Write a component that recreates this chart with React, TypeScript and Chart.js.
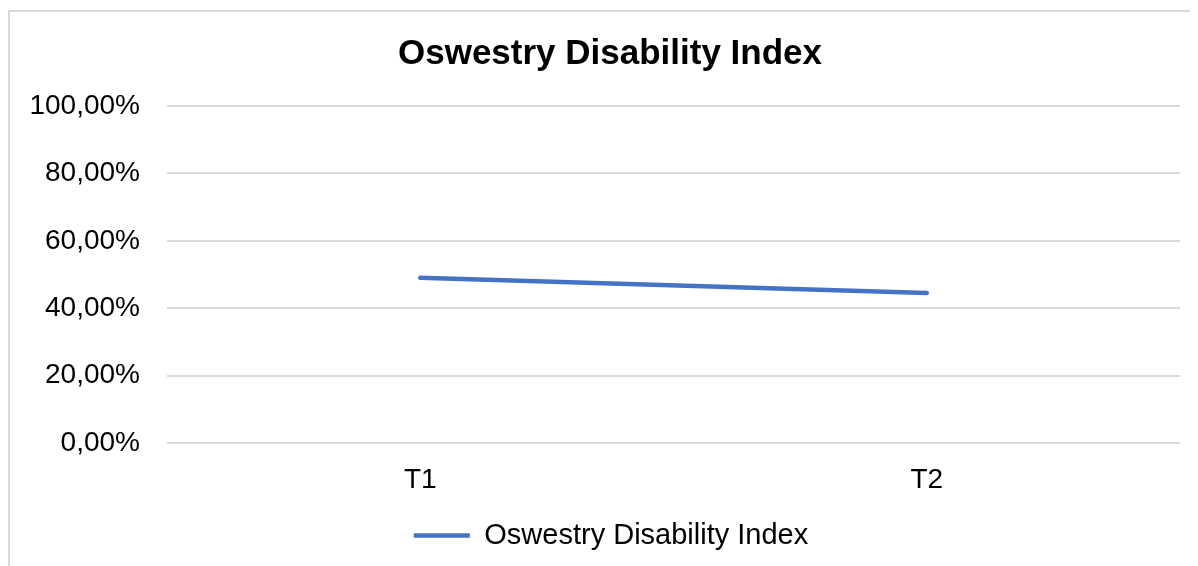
import React, { useEffect, useRef } from "react";
import { Chart, registerables } from "chart.js";

Chart.register(...registerables);

const categories = ["T1", "T2"];
const seriesName = "Oswestry Disability Index";
const seriesValues = [49.0, 44.5];
const yTicks = [0, 20, 40, 60, 80, 100];

const FONT = "'Liberation Sans', Arial, sans-serif";

const shiftBoxes = {
  id: "shiftBoxes",
  afterLayout(chart: any) {
    if (chart.titleBlock) chart.titleBlock.left += 30;
    if (chart.legend) chart.legend.left += 32;
  },
};

export default function App() {
  const ref = useRef<HTMLCanvasElement | null>(null);
  useEffect(() => {
    if (!ref.current) return;
    const chart = new Chart(ref.current, {
      type: "line",
      data: {
        labels: categories,
        datasets: [
          {
            label: seriesName,
            data: seriesValues,
            borderColor: "#4472C4",
            backgroundColor: "#4472C4",
            borderWidth: 4.5,
            borderCapStyle: "round",
            pointRadius: 0,
            pointStyle: "line",
            tension: 0,
          },
        ],
      },
      plugins: [shiftBoxes],
      options: {
        animation: false,
        responsive: false,
        maintainAspectRatio: false,
        layout: { padding: { left: 0, right: 20, top: 0, bottom: 12 } },
        plugins: {
          title: {
            display: true,
            text: seriesName,
            color: "#000",
            font: { family: FONT, size: 35, weight: "bold", lineHeight: 1.2 },
            padding: { top: 21, bottom: 31 },
          },
          legend: {
            position: "bottom",
            labels: {
              color: "#000",
              font: { family: FONT, size: 29 },
              usePointStyle: true,
              pointStyle: "line",
              pointStyleWidth: 56,
              boxHeight: 4,
              padding: 10,
            },
          },
          tooltip: { enabled: false },
        },
        scales: {
          x: {
            offset: true,
            grid: { display: false, drawTicks: false },
            border: { display: false },
            ticks: { color: "#000", font: { family: FONT, size: 28 }, padding: 20 },
            afterFit: (s: any) => {
              s.height = 68;
            },
          },
          y: {
            min: 0,
            max: 100,
            afterBuildTicks: (s: any) => {
              s.ticks = yTicks.map((v) => ({ value: v }));
            },
            grid: { color: "#d9d9d9", lineWidth: 2, drawTicks: false },
            border: { display: false },
            ticks: {
              color: "#000",
              font: { family: FONT, size: 28 },
              padding: 27,
              callback: (v: any) => `${Number(v).toFixed(2).replace(".", ",")}%`,
            },
            afterFit: (s: any) => {
              s.width = 157;
            },
          },
        },
      },
    });
    return () => chart.destroy();
  }, []);
  return (
    <div
      style={{
        marginTop: 2,
        width: 1190,
        height: 560,
        border: "2px solid #d9d9d9",
        background: "#fff",
      }}
    >
      <canvas ref={ref} width={1190} height={560} style={{ display: "block" }} />
    </div>
  );
}
